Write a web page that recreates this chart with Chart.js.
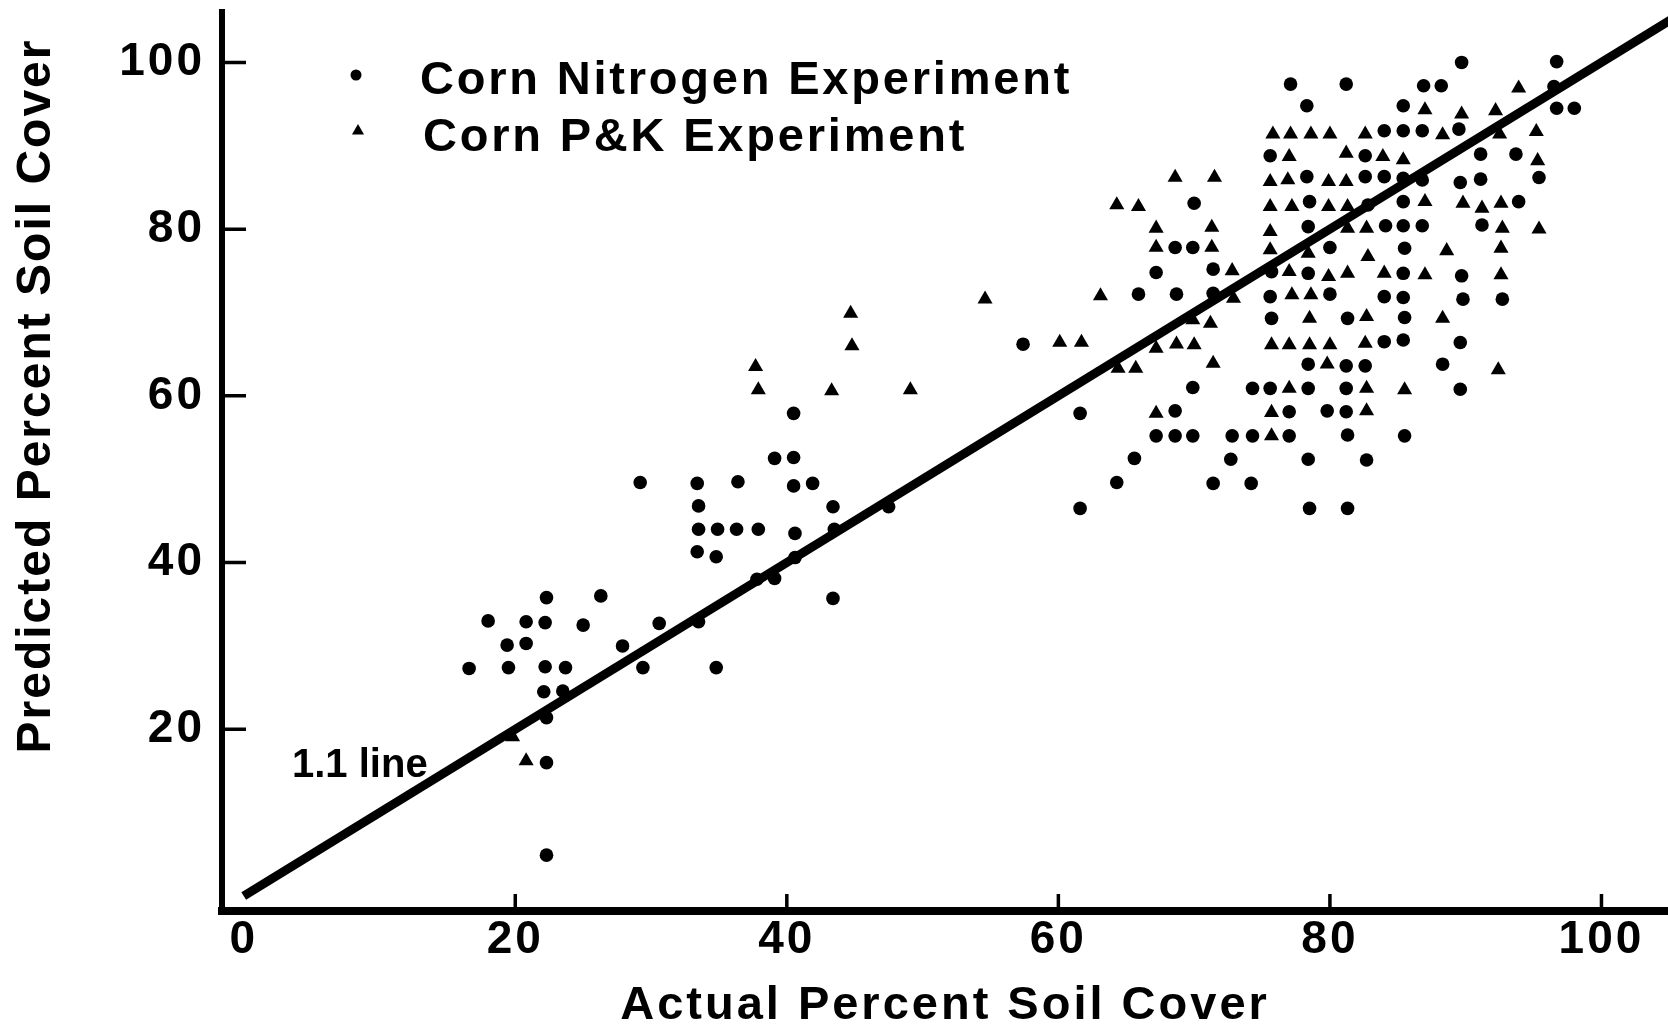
<!DOCTYPE html>
<html>
<head>
<meta charset="utf-8">
<script src="https://cdn.jsdelivr.net/npm/chart.js@4/dist/chart.umd.min.js"></script>
<style>
  html, body { margin: 0; padding: 0; background: #ffffff; }
  canvas { display: block; }
</style>
</head>
<body>
<canvas id="chart" width="1668" height="1030"></canvas>
<script>
// ---------------- DATA ----------------
const seriesLabels = ['Corn Nitrogen Experiment', 'Corn P&K Experiment'];
const xTitle = 'Actual Percent Soil Cover';
const yTitle = 'Predicted Percent Soil Cover';
const lineLabel = '1.1 line';
const xTicks = [0, 20, 40, 60, 80, 100];
const yTicks = [20, 40, 60, 80, 100];

// Corn Nitrogen Experiment (circles)
const nitrogenX = [22.3,26.3,18.0,20.8,22.2,25.0,30.6,33.5,19.4,20.8,27.9,16.6,19.5,22.2,23.7,29.4,34.8,22.1,23.5,22.3,22.3,22.3,
  29.2,39.1,40.5,33.4,36.4,40.5,41.9,33.5,43.4,47.5,33.5,34.9,36.3,37.9,40.6,43.5,33.4,34.8,40.6,37.8,39.1,43.4,
  57.4,40.5,
  70.0,68.6,69.9,67.2,71.4,65.9,68.7,71.4,69.9,74.3,61.6,68.6,67.2,68.6,69.9,72.8,74.3,65.6,72.7,64.3,71.4,74.2,61.6,
  77.1,81.2,78.3,85.4,84.0,85.4,86.8,75.6,82.6,78.3,82.6,84.0,85.4,86.8,78.5,82.8,85.4,78.4,84.1,85.4,86.8,80.0,85.5,
  75.7,78.4,85.4,75.6,80.0,84.0,85.4,75.7,81.3,85.5,84.0,85.4,78.4,81.2,82.6,75.6,78.4,81.2,77.0,79.8,81.2,77.0,81.3,85.5,
  78.4,82.7,78.5,81.3,
  89.7,96.7,86.9,88.2,96.5,96.7,98.0,89.5,91.1,93.7,89.6,91.1,95.4,93.9,91.2,89.7,89.8,92.7,89.6,88.3,89.6];
const nitrogenY = [35.8,36.0,33.0,32.9,32.8,32.5,32.7,32.9,30.1,30.3,30.0,27.3,27.4,27.5,27.4,27.4,27.4,24.5,24.6,21.4,16.0,4.9,
  49.6,52.5,52.6,49.5,49.7,49.2,49.5,46.8,46.7,46.7,44.0,44.0,44.0,44.0,43.5,44.0,41.3,40.7,40.6,38.0,38.1,35.7,
  66.2,57.9,
  83.1,77.8,77.8,74.8,75.2,72.2,72.2,72.3,61.0,60.9,57.9,58.2,55.2,55.2,55.2,55.2,55.2,52.5,52.4,49.6,49.5,49.5,46.5,
  97.4,97.4,94.8,94.8,91.8,91.8,91.8,88.8,88.8,86.3,86.3,86.3,86.1,85.9,83.3,82.9,83.3,80.3,80.4,80.4,80.4,77.8,77.7,
  74.9,74.7,74.7,71.9,72.2,71.9,71.8,69.3,69.3,69.4,66.5,66.7,63.8,63.6,63.6,60.9,60.9,60.9,58.1,58.2,58.1,55.2,55.3,55.2,
  52.4,52.3,46.5,46.5,
  100.0,100.1,97.2,97.2,97.1,94.5,94.5,92.0,89.0,89.0,85.6,86.0,86.2,83.3,80.5,74.4,71.6,71.6,66.4,63.8,60.8];

// Corn P&K Experiment (triangles)
const pkX = [19.8,20.8,
  44.7,54.6,44.8,37.7,37.9,43.3,49.1,
  68.6,71.5,64.3,65.9,67.2,71.3,67.2,71.3,72.8,63.1,72.9,71.2,69.9,60.1,61.7,67.2,68.7,70.0,64.4,65.7,71.4,67.2,
  87.0,75.8,77.1,78.6,80.0,82.6,77.0,81.2,83.9,85.4,75.6,76.9,79.9,81.2,75.6,77.2,79.9,81.3,87.0,75.6,81.3,82.7,
  75.6,78.4,82.8,77.0,79.9,81.3,84.0,87.0,77.2,78.6,78.5,82.7,75.7,77.0,78.5,80.0,82.6,79.8,77.0,82.7,85.5,75.7,82.7,75.7,
  93.9,89.7,92.2,88.3,92.5,95.2,95.3,89.8,91.2,92.6,92.7,95.4,88.6,92.6,92.6,88.3,92.4];
const pkY = [19.1,16.2,
  69.9,71.6,66.0,63.5,60.7,60.6,60.7,
  86.2,86.2,82.9,82.7,80.1,80.2,77.8,77.8,75.0,72.0,71.7,68.7,69.1,66.4,66.4,65.7,66.2,66.1,63.3,63.3,63.9,57.9,
  94.3,91.4,91.4,91.4,91.4,91.4,88.7,89.1,88.7,88.3,85.7,85.9,85.7,85.7,82.7,82.7,82.7,82.7,83.3,79.7,80.1,80.1,
  77.5,77.1,76.7,74.9,74.3,74.7,74.7,74.5,72.1,72.1,69.3,69.5,66.1,66.1,66.1,66.1,66.3,63.8,60.9,60.9,60.7,58.0,58.2,55.2,
  96.9,93.8,94.2,91.3,91.4,91.7,88.2,83.1,82.5,83.1,80.1,80.0,77.4,77.7,74.5,69.3,63.1];

// 1:1 reference line
const lineX = [0, 106];
const lineY = [0, 106];

// ---------------- CHART ----------------
const FONT = "'Liberation Sans', Arial, Helvetica, sans-serif";
const toPoints = (xs, ys) => xs.map((x, i) => ({ x: x, y: ys[i] }));

function zeroPadding(s) {
  s.paddingTop = 0;
  s.paddingBottom = 0;
  s.paddingLeft = 0;
  s.paddingRight = 0;
}

const decorPlugin = {
  id: 'decor',
  beforeDraw(chart) {
    chart.ctx.letterSpacing = '3px';
  },
  afterDraw(chart) {
    const ctx = chart.ctx;
    const area = chart.chartArea;
    const xs = chart.scales.x, ys = chart.scales.y;
    ctx.save();
    ctx.fillStyle = '#000';
    ctx.strokeStyle = '#000';
    // inward tick marks
    ctx.lineWidth = 3.5;
    ctx.beginPath();
    yTicks.forEach(v => {
      const py = ys.getPixelForValue(v);
      ctx.moveTo(area.left, py);
      ctx.lineTo(area.left + 24, py);
    });
    xTicks.filter(v => v !== 0).forEach(v => {
      const px = xs.getPixelForValue(v);
      ctx.moveTo(px, area.bottom);
      ctx.lineTo(px, area.bottom - 17);
    });
    ctx.stroke();

    // y axis title
    ctx.save();
    ctx.translate(37, 396);
    ctx.rotate(-Math.PI / 2);
    ctx.font = 'bold 48px ' + FONT;
    ctx.letterSpacing = '2px';
    ctx.textAlign = 'center';
    ctx.textBaseline = 'middle';
    ctx.fillText(yTitle, 0, 0);
    ctx.restore();

    // legend (inside plot)
    ctx.beginPath();
    ctx.arc(356, 75, 5.5, 0, Math.PI * 2);
    ctx.fill();
    const tr = 7;
    ctx.beginPath();
    ctx.moveTo(358, 131 - tr);
    ctx.lineTo(358 + tr * 0.866, 131 + tr / 2);
    ctx.lineTo(358 - tr * 0.866, 131 + tr / 2);
    ctx.closePath();
    ctx.fill();
    ctx.font = 'bold 47px ' + FONT;
    ctx.letterSpacing = '2.8px';
    ctx.textAlign = 'left';
    ctx.textBaseline = 'middle';
    ctx.fillText(chart.data.datasets[0].label, 420, 81);
    ctx.fillText(chart.data.datasets[1].label, 423, 138);

    // 1:1 line annotation
    ctx.font = 'bold 40px ' + FONT;
    ctx.letterSpacing = '0px';
    ctx.fillText(lineLabel, 292, 766);
    ctx.restore();
  }
};

new Chart(document.getElementById('chart').getContext('2d'), {
  type: 'scatter',
  data: {
    datasets: [
      {
        label: seriesLabels[0],
        data: toPoints(nitrogenX, nitrogenY),
        pointStyle: 'circle',
        pointRadius: 6.8,
        pointHoverRadius: 6.8,
        backgroundColor: '#000',
        borderColor: '#000',
        borderWidth: 0
      },
      {
        label: seriesLabels[1],
        data: toPoints(pkX, pkY),
        pointStyle: 'triangle',
        pointRadius: 8.7,
        pointHoverRadius: 8.7,
        backgroundColor: '#000',
        borderColor: '#000',
        borderWidth: 0
      },
      {
        type: 'line',
        label: '1:1',
        data: toPoints(lineX, lineY),
        showLine: true,
        borderColor: '#000',
        borderWidth: 9,
        pointRadius: 0,
        fill: false,
        tension: 0
      }
    ]
  },
  options: {
    responsive: false,
    animation: false,
    events: [],
    layout: { autoPadding: false, padding: { top: 12, left: 0, right: 0, bottom: 0 } },
    plugins: {
      legend: { display: false },
      tooltip: { enabled: false }
    },
    scales: {
      x: {
        type: 'linear',
        position: 'bottom',
        min: -1.6,
        max: 104.9,
        afterFit(s) { s.height = 119; zeroPadding(s); },
        afterBuildTicks(s) { s.ticks = xTicks.map(v => ({ value: v })); },
        grid: { display: false, drawTicks: false },
        border: { display: true, color: '#000', width: 8 },
        ticks: {
          color: '#000',
          font: { family: FONT, size: 46, weight: 'bold', lineHeight: 1 },
          padding: 6,
          maxRotation: 0,
          autoSkip: false
        },
        title: {
          display: true,
          text: xTitle,
          color: '#000',
          font: { family: FONT, size: 47, weight: 'bold', lineHeight: 1 },
          padding: { top: 0, bottom: 0 }
        }
      },
      y: {
        type: 'linear',
        min: -1.8,
        max: 106.05,
        afterFit(s) { s.width = 222; zeroPadding(s); },
        afterBuildTicks(s) { s.ticks = yTicks.map(v => ({ value: v })); },
        grid: { display: false, drawTicks: false },
        border: { display: true, color: '#000', width: 6 },
        ticks: {
          color: '#000',
          font: { family: FONT, size: 46, weight: 'bold', lineHeight: 1 },
          padding: 17,
          autoSkip: false
        },
        title: { display: false }
      }
    }
  },
  plugins: [decorPlugin]
});
</script>
</body>
</html>
